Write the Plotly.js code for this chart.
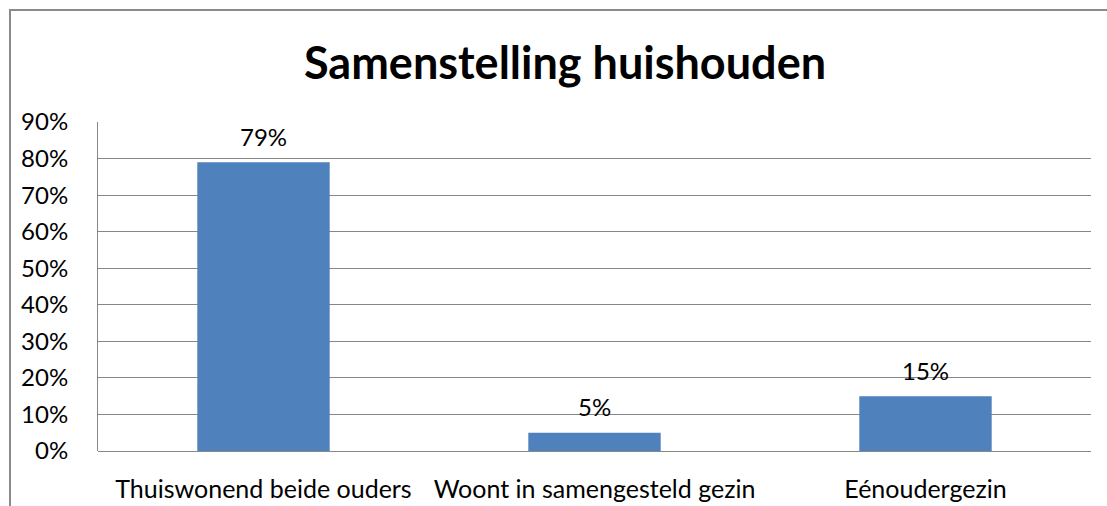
<!DOCTYPE html>
<html>
<head>
<meta charset="utf-8">
<script src="https://cdn.plot.ly/plotly-3.0.1.min.js"></script>
<style>
  html, body { margin: 0; padding: 0; background: #fff; overflow: hidden; }
  #frame { position: absolute; left: 9px; top: 9px; width: 1200px; height: 600px; border: 2px solid #8a8a8a; box-sizing: border-box; }
  #chart { position: absolute; left: 0; top: 0; width: 1107px; height: 506px; }
</style>
</head>
<body>
<div id="frame"></div>
<div id="chart"></div>
<script>
const categories = ["Thuiswonend beide ouders", "Woont in samengesteld gezin", "Eénoudergezin"];
const values = [0.79, 0.05, 0.15];
const valueLabels = ["79%", "5%", "15%"];
const tickVals = [0, 0.1, 0.2, 0.3, 0.4, 0.5, 0.6, 0.7, 0.8, 0.9];
const tickText = ["0%", "10%", "20%", "30%", "40%", "50%", "60%", "70%", "80%", "90%"];
const chartTitle = "Samenstelling huishouden";

const FONT = "Lato, Calibri, 'Open Sans', sans-serif";

const trace = {
  type: "bar",
  x: categories,
  y: values,
  marker: { color: "#4F81BD", line: { width: 0 } },
  hoverinfo: "none"
};

const annotations = categories.map((c, i) => ({
  x: c,
  y: values[i],
  xref: "x",
  yref: "y",
  text: valueLabels[i],
  showarrow: false,
  xanchor: "center",
  yanchor: "middle",
  yshift: 26,
  font: { family: FONT, size: 24, color: "#000" }
}));

const layout = {
  width: 1107,
  height: 506,
  margin: { l: 98, r: 16, t: 122, b: 55 },
  paper_bgcolor: "rgba(0,0,0,0)",
  plot_bgcolor: "rgba(0,0,0,0)",
  bargap: 0.6,
  showlegend: false,
  font: { family: FONT, size: 24, color: "#000" },
  annotations: annotations,
  title: {
    text: "<b>" + chartTitle + "</b>",
    font: { family: FONT, size: 45, color: "#000" },
    x: 565 / 1107,
    xref: "container",
    xanchor: "center",
    y: 1 - 63 / 506,
    yref: "container",
    yanchor: "middle"
  },
  xaxis: {
    type: "category",
    showgrid: false,
    showline: false,
    ticks: "",
    ticklabelstandoff: 21,
    tickfont: { family: FONT, size: 25, color: "#000" }
  },
  yaxis: {
    range: [0, 0.9],
    tickvals: tickVals,
    ticktext: tickText,
    showgrid: true,
    gridcolor: "#878787",
    gridwidth: 1,
    zeroline: true,
    zerolinecolor: "#878787",
    zerolinewidth: 1,
    showline: true,
    linecolor: "#878787",
    linewidth: 1,
    ticks: "",
    ticklabelstandoff: 24,
    tickfont: { family: FONT, size: 24, color: "#000" }
  }
};

Plotly.newPlot("chart", [trace], layout, { displayModeBar: false, staticPlot: true });
</script>
</body>
</html>
